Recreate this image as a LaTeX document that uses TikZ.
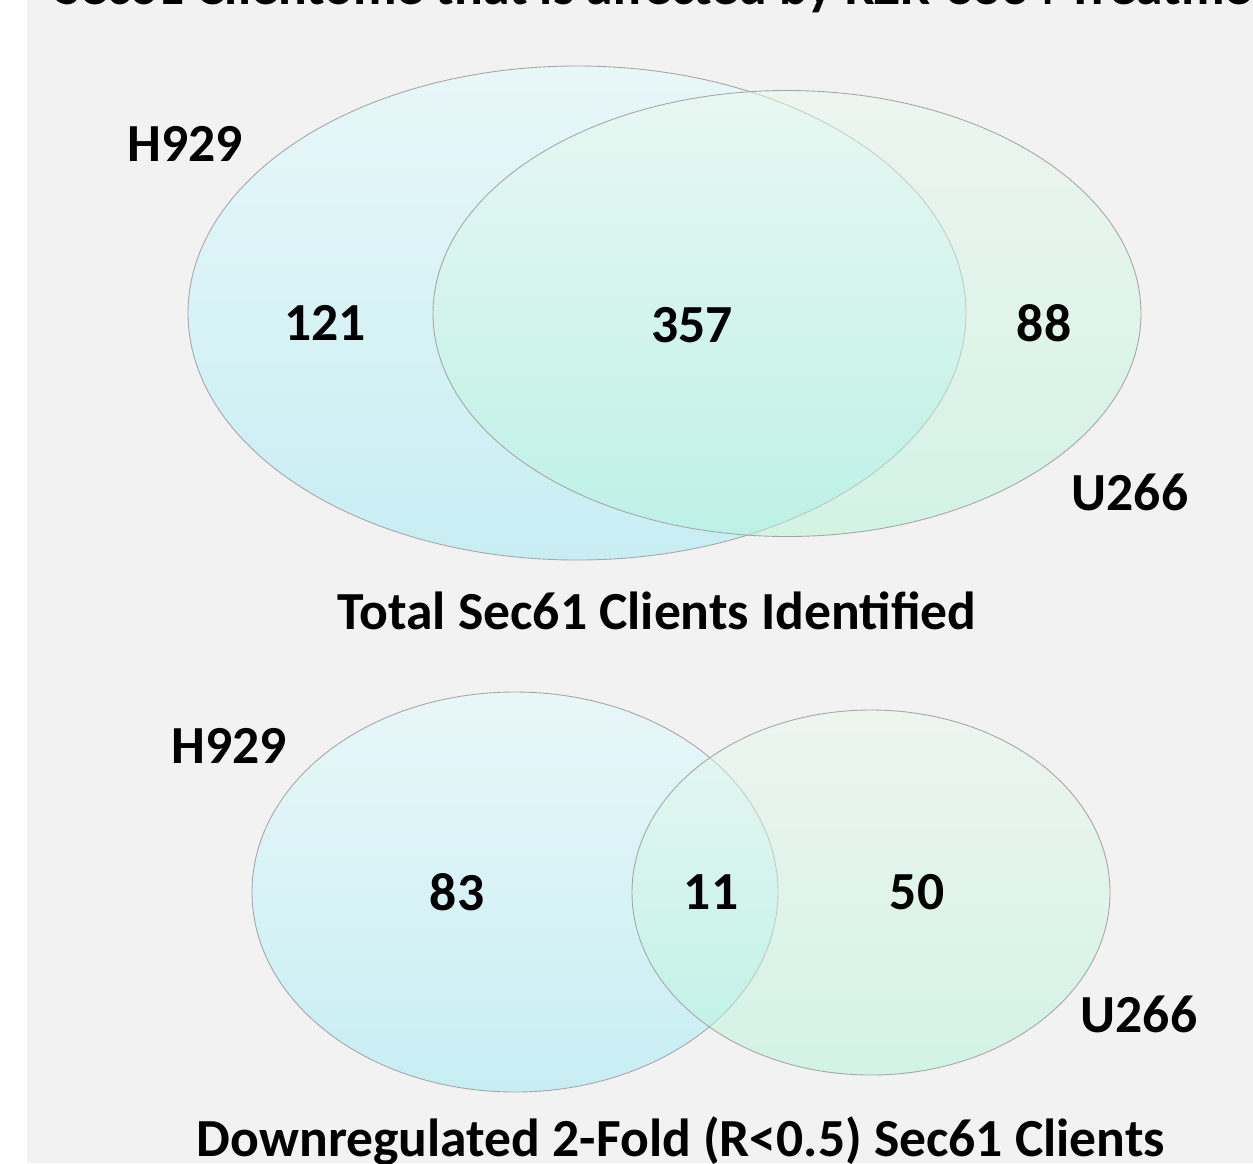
\documentclass[tikz,border=0pt]{standalone}
\usepackage{fontspec}
\setmainfont{Carlito}
\usepackage{xcolor}
\usepackage{tikz}
\usetikzlibrary{positioning}

\definecolor{bggray}{HTML}{F2F2F2}
\definecolor{hTop}{HTML}{E0FCFF}
\definecolor{hBot}{HTML}{9EECF6}
\definecolor{uTop}{HTML}{EAF8EE}
\definecolor{uBot}{HTML}{B4F4DA}
\definecolor{rim}{HTML}{A6A6A6}

\begin{document}
\begin{tikzpicture}[
  x=0.02cm, y=-0.02cm,
  font=\fontsize{30.5}{36}\selectfont\bfseries,
  hset/.style={draw=rim, line width=0.5pt, top color=hTop, bottom color=hBot, fill opacity=0.5, draw opacity=1},
  uset/.style={draw=rim, line width=0.5pt, top color=uTop, bottom color=uBot, fill opacity=0.5, draw opacity=1},
  num/.style={inner sep=0pt, text=black},
  txt/.style={inner sep=0pt, text=black}
]
  \useasboundingbox (0,0) rectangle (1253,1163);
  \fill[white] (0,0) rectangle (27,1163);
  \fill[bggray] (27,0) rectangle (1253,1163);

  % Titel (oben abgeschnitten)
  \node[txt, anchor=base west] (title) at (55,4) {Sec61 Clientome that is affected by KZR-8834 Treatment};

  % Oberes Venn: alle Klienten
  \shade[hset] (577,313) ellipse [x radius=389, y radius=247];
  \shade[uset] (787,313.5) ellipse [x radius=354, y radius=223];

  \node[txt] (hTopLbl) at (185,144) {H929};
  \node[txt] (uTopLbl) at (1130,492) {U266};
  \node[num] (nA) at (325,323) {121};
  \node[num] (nAB) at (692,325) {357};
  \node[num] (nB) at (1044,323) {88};
  \node[txt] (capTop) at (657,611) {Total Sec61 Clients Identified};

  % Unteres Venn: 2-fach herunterreguliert
  \shade[hset] (515,892) ellipse [x radius=263, y radius=200];
  \shade[uset] (871,892.5) ellipse [x radius=239, y radius=182.5];

  \node[txt] (hBotLbl) at (229,746) {H929};
  \node[txt] (uBotLbl) at (1139,1014) {U266};
  \node[num] (mA) at (457,892) {83};
  \node[num] (mAB) at (711,892) {11};
  \node[num] (mB) at (917,892) {50};
  \node[txt] (capBot) at (681,1141) {Downregulated 2-Fold (R<0.5) Sec61 Clients};
\end{tikzpicture}
\end{document}
